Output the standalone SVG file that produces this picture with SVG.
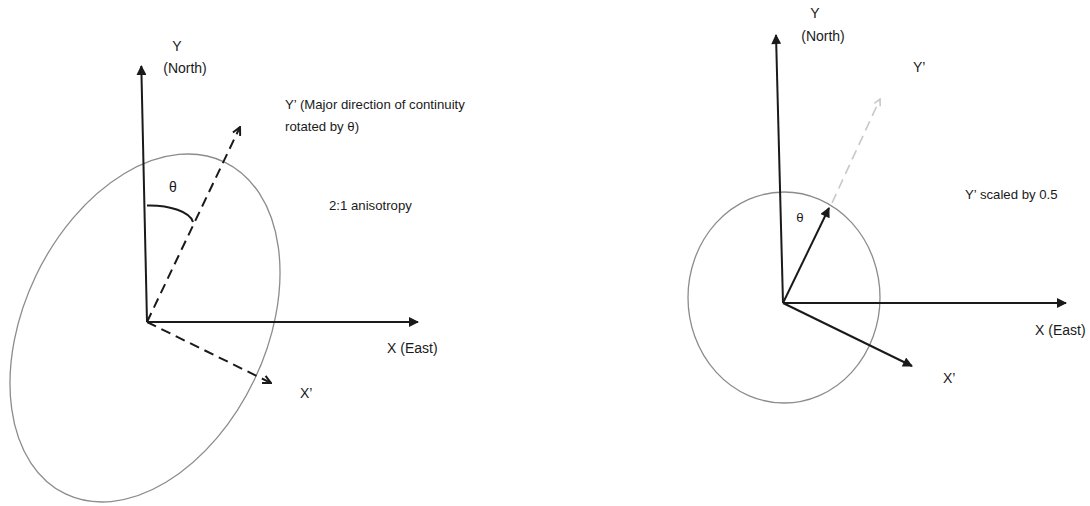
<svg xmlns="http://www.w3.org/2000/svg" width="1090" height="506" viewBox="0 0 1090 506">
<style>
  .ax { stroke:#1a1a1a; stroke-width:2; fill:none; }
  .dash { stroke:#1a1a1a; stroke-width:2; fill:none; stroke-dasharray:10,6; }
  .ghost { stroke:#c8c8c8; stroke-width:1.6; fill:none; stroke-dasharray:10,6; }
  .ell { stroke:#8c8c8c; stroke-width:1.3; fill:none; }
  text { font-family:"Liberation Sans", Arial, sans-serif; font-size:13.2px; fill:#1a1a1a; }
  .lg { font-size:14px; }
</style>
<defs>
  <marker id="ah" viewBox="0 0 10 10" refX="9" refY="5" markerWidth="5.5" markerHeight="5" orient="auto" markerUnits="strokeWidth">
    <path d="M0,0 L10,5 L0,10 z" fill="#1a1a1a"/>
  </marker>
  <marker id="ahopen" viewBox="0 0 10 10" refX="9" refY="5" markerWidth="5" markerHeight="5" orient="auto" markerUnits="strokeWidth">
    <path d="M1,1 L9,5 L1,9" fill="none" stroke="#1a1a1a" stroke-width="2"/>
  </marker>
  <marker id="ahghost" viewBox="0 0 10 10" refX="9" refY="5" markerWidth="5" markerHeight="5" orient="auto" markerUnits="strokeWidth">
    <path d="M1,1 L9,5 L1,9" fill="none" stroke="#c8c8c8" stroke-width="2"/>
  </marker>
</defs>

<g id="left-ellipse">
  <ellipse class="ell" cx="145" cy="328" rx="121" ry="184" transform="rotate(25.6 145 328)"/>
</g>
<g id="right-circle">
  <ellipse class="ell" cx="784" cy="297.5" rx="96" ry="105.5"/>
</g>

<g id="connectors">
  <!-- left -->
  <line class="ax" x1="147" y1="322" x2="141.3" y2="66" marker-end="url(#ah)"/>
  <line class="ax" x1="147" y1="322" x2="418" y2="322" marker-end="url(#ah)"/>
  <line class="dash" x1="147" y1="322" x2="240" y2="127" marker-end="url(#ahopen)"/>
  <line class="dash" x1="147" y1="322" x2="271" y2="383" marker-end="url(#ahopen)"/>
  <path class="ax" stroke-width="1.5" d="M147,205.5 C170,205 190,212 193,222"/>
  <!-- right -->
  <line class="ax" x1="783" y1="303" x2="776" y2="35" marker-end="url(#ah)"/>
  <line class="ax" x1="783" y1="303" x2="1066" y2="303" marker-end="url(#ah)"/>
  <line class="ax" x1="783" y1="303" x2="912" y2="366" marker-end="url(#ah)"/>
  <line class="ax" x1="783" y1="303" x2="829" y2="208" marker-end="url(#ah)"/>
  <line class="ghost" x1="832" y1="203" x2="880" y2="99" marker-end="url(#ahghost)"/>
</g>

<g id="left-labels">
  <text x="177" y="51" text-anchor="middle" class="lg">Y</text>
  <text x="185" y="73" text-anchor="middle" class="lg">(North)</text>
  <text x="285" y="109">Y’ (Major direction of continuity</text>
  <text x="285" y="131">rotated by θ)</text>
  <text x="173" y="192" text-anchor="middle" class="lg">θ</text>
  <text x="329" y="210">2:1 anisotropy</text>
  <text x="387" y="353" class="lg">X (East)</text>
  <text x="300" y="398" class="lg">X’</text>
</g>

<g id="right-labels">
  <text x="815" y="18" text-anchor="middle" class="lg">Y</text>
  <text x="823" y="41" text-anchor="middle" class="lg">(North)</text>
  <text x="913" y="72" class="lg">Y’</text>
  <text x="965" y="199">Y’ scaled by 0.5</text>
  <text x="800" y="222" text-anchor="middle">θ</text>
  <text x="1035" y="335" class="lg">X (East)</text>
  <text x="943" y="383" class="lg">X’</text>
</g>
</svg>
